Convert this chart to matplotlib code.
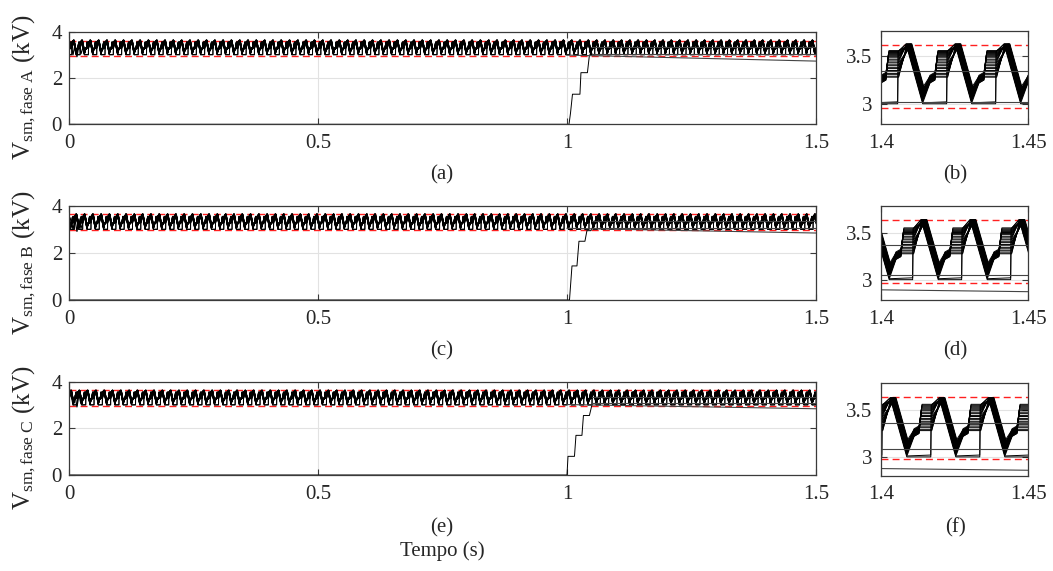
import numpy as np
import matplotlib
matplotlib.use('Agg')
import matplotlib.pyplot as plt

plt.rcParams['font.family'] = ['Liberation Serif', 'DejaVu Serif']
plt.rcParams['mathtext.fontset'] = 'custom'
plt.rcParams['mathtext.rm'] = 'Liberation Serif'
plt.rcParams['mathtext.it'] = 'Liberation Serif:italic'

# ---- values ----
phases = ['A', 'B', 'C']
f_ripple = 60.0                      # 3 ripple peaks in each 50 ms zoom
t_end = 1.5
fall_rate = 1.85                     # kV per ripple period on the falling edge

peak_time = {'A': 1.4085, 'B': 1.4136, 'C': 1.4031}   # one ripple peak (s)
peak_value = {'A': 3.63, 'B': 3.65, 'C': 3.63}        # kV

# per submodule: level held during the rising part (staircase), kV
hold_levels = [3.00, 3.02, 3.28, 3.29, 3.31, 3.32, 3.34, 3.35, 3.37, 3.38,
               3.40, 3.41, 3.43, 3.44, 3.46, 3.47, 3.49, 3.50, 3.51, 3.52,
               3.53, 3.54, 3.55, 3.56]
# per submodule: valley of the ripple, kV
valley_levels = [3.00, 3.01, 3.02, 3.04, 3.05, 3.07, 3.08, 3.10, 3.11, 3.13,
                 3.14, 3.16, 3.17, 3.03, 3.04, 3.06, 3.07, 3.09, 3.10, 3.12,
                 3.13, 3.15, 3.16, 3.18]
# per submodule: delay of its peak, fraction of a period
peak_shifts = [0.00, 0.01, 0.02, 0.03, 0.04, 0.05, 0.06, 0.07, 0.08, 0.09,
               0.10, 0.11, 0.12, 0.01, 0.02, 0.03, 0.04, 0.05, 0.06, 0.07,
               0.08, 0.09, 0.10, 0.11]
# per submodule: plateau after the valley, kV
plateau_levels = [3.00, 3.02, 3.22, 3.23, 3.24, 3.25, 3.26, 3.27, 3.28, 3.29,
                  3.30, 3.24, 3.25, 3.26, 3.27, 3.28, 3.22, 3.23, 3.24, 3.25,
                  3.26, 3.27, 3.28, 3.29]

# start-up transient (first cycles)
startup_t = [0.0, 0.004, 0.008, 0.012, 0.016, 0.020, 0.024, 0.028]
startup_v = [3.25, 3.50, 3.00, 3.42, 2.92, 3.45, 3.05, 3.30]

# submodule inserted at t = 1 s (charging in steps)
ramp_t = {'A': [0.0, 1.004, 1.007, 1.011, 1.026, 1.028, 1.041, 1.045, 1.05],
          'B': [0.0, 1.005, 1.010, 1.020, 1.024, 1.036, 1.040, 1.048, 1.05],
          'C': [0.0, 1.000, 1.002, 1.015, 1.018, 1.030, 1.033, 1.045, 1.05]}
ramp_v = {'A': [0.0, 0.0, 0.48, 1.30, 1.30, 2.23, 2.23, 2.99, 3.05],
          'B': [0.0, 0.0, 1.45, 1.45, 2.50, 2.50, 2.95, 2.95, 3.05],
          'C': [0.0, 0.0, 0.80, 0.80, 1.70, 1.70, 2.55, 2.55, 3.00]}

# submodule removed at t = 1 s (slow discharge)
decay_t = [1.0, 1.5]
decay_v = {'A': [2.99, 2.73], 'B': [3.05, 2.85], 'C': [3.02, 2.84]}

# flat lines seen in the zooms
flat_t = [1.05, 1.5]
flat_levels = {'A': [3.35, 3.02], 'B': [3.37, 3.05], 'C': [3.36, 3.08]}

# dashed limits (kV)
limit_hi = {'A': 3.617, 'B': 3.64, 'C': 3.64}
limit_lo = {'A': 2.96, 'B': 2.96, 'C': 2.975}

zoom_ylim = {'A': (2.787, 3.766), 'B': (2.78, 3.80), 'C': (2.80, 3.79)}
captions = [('(a)', '(b)'), ('(c)', '(d)'), ('(e)', '(f)')]


def sm_trace(t0, vpk, hold, valley, shift, plateau):
    T = 1.0 / f_ripple
    ph_valley = shift + (vpk - valley) / fall_rate
    if hold < 3.1:
        ph = [shift, ph_valley, 0.83, 0.84]
        vv = [vpk, valley, hold, 3.55]
    else:
        ph_hold = 0.59 + 0.06 * (hold - 3.28) / (3.55 - 3.28)
        ph = [shift, ph_valley, 0.49, 0.59, ph_hold, 0.85]
        vv = [vpk, valley, plateau, plateau + 0.03, hold, hold]
    first = t0 % T
    tt, vals = [], []
    for n in range(-2, int(t_end * f_ripple) + 2):
        tp = first + n * T
        tt.extend(tp + np.array(ph) * T)
        vals.extend(vv)
    return np.array(tt), np.array(vals)


W, H = 1053, 571
fig = plt.figure(figsize=(W / 100, H / 100), dpi=100)


def px_axes(left, top, right, bottom):
    return fig.add_axes([left / W, 1 - bottom / H, (right - left) / W, (bottom - top) / H])


main_boxes = [(69, 31.7, 816, 124.3), (69, 206, 816, 300), (69, 381.7, 816, 475)]
zoom_boxes = [(881, 31, 1028, 124), (881, 205.7, 1028, 300), (881, 382.7, 1028, 475.7)]
caption_y = [175, 351, 528]
spine_col = '#3a3a3a'
text_col = '#262626'

for i, ph in enumerate(phases):
    ax = px_axes(*main_boxes[i])
    axz = px_axes(*zoom_boxes[i])
    for a in (ax, axz):
        a.axhline(limit_hi[ph], color='#ff2020', lw=1.0, dashes=(5, 3), zorder=1)
        a.axhline(limit_lo[ph], color='#ff2020', lw=1.0, dashes=(5, 3), zorder=1)
        for hv, vl, sh, pl in zip(hold_levels, valley_levels, peak_shifts, plateau_levels):
            tt, vals = sm_trace(peak_time[ph], peak_value[ph], hv, vl, sh, pl)
            a.plot(tt, vals, color='black', lw=0.7, zorder=2)
        a.plot(startup_t, startup_v, color='black', lw=0.9, zorder=2)
        a.plot(ramp_t[ph], ramp_v[ph], color='black', lw=0.7, zorder=2)
        a.plot(decay_t, decay_v[ph], color='#444444', lw=0.8, zorder=2)
        for lv in flat_levels[ph]:
            a.plot(flat_t, [lv, lv], color='#444444', lw=0.8, zorder=2)
        a.grid(True, color='#e2e2e2', lw=0.8)
        a.set_axisbelow(True)
        a.tick_params(direction='in', top=True, right=True, length=4, width=0.8,
                      colors=spine_col, labelcolor=text_col, labelsize=15)
        for s in a.spines.values():
            s.set_color(spine_col)
            s.set_linewidth(0.9)

    ax.set_xlim(0, 1.5)
    ax.set_ylim(0, 4)
    ax.set_xticks([0, 0.5, 1, 1.5])
    ax.set_xticklabels(['0', '0.5', '1', '1.5'])
    ax.set_yticks([0, 2, 4])
    ax.tick_params(axis='x', pad=7)
    ax.tick_params(axis='y', pad=5)
    ax.set_ylabel(r'$\mathrm{V}_{\mathrm{sm,fase\ %s}}$ (kV)' % ph, fontsize=18,
                  color=text_col)
    ax.yaxis.set_label_coords(-0.041, 0.40)

    axz.set_xlim(1.4, 1.45)
    axz.set_ylim(*zoom_ylim[ph])
    axz.set_xticks([1.4, 1.45])
    axz.set_xticklabels(['1.4', '1.45'])
    axz.set_yticks([3, 3.5])
    axz.set_yticklabels(['3', '3.5'])
    axz.tick_params(axis='x', pad=7)
    axz.tick_params(axis='y', pad=6)

    fig.text(442 / W, 1 - caption_y[i] / H, captions[i][0], ha='center', va='center',
             fontsize=15, color=text_col)
    fig.text(955 / W, 1 - caption_y[i] / H, captions[i][1], ha='center', va='center',
             fontsize=15, color=text_col)

fig.text(442 / W, 1 - 551 / H, 'Tempo (s)', ha='center', va='center', fontsize=15,
         color=text_col)

fig.savefig('out.png', dpi=100)
